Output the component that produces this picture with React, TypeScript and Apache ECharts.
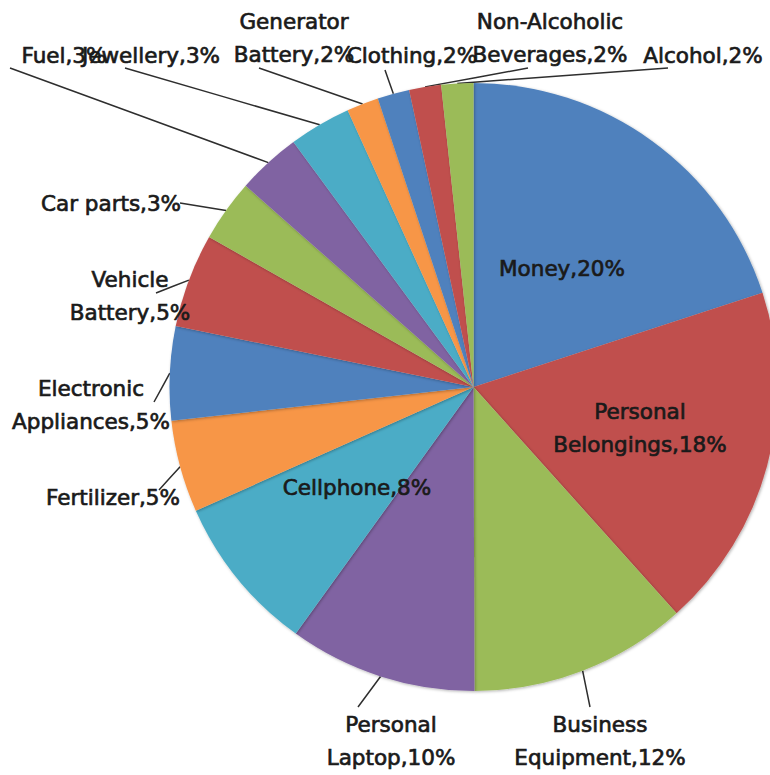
import React, { useEffect, useRef } from "react";
import * as echarts from "echarts";

const categories = [
  "Money",
  "Personal\nBelongings",
  "Business\nEquipment",
  "Personal\nLaptop",
  "Cellphone",
  "Fertilizer",
  "Electronic\nAppliances",
  "Vehicle\nBattery",
  "Car parts",
  "Fuel",
  "Jewellery",
  "Generator\nBattery",
  "Clothing",
  "Non-Alcoholic\nBeverages",
  "Alcohol",
];
const values = [20.0, 18.4, 11.6, 10.0, 8.4, 4.9, 5.0, 5.0, 3.3, 3.4, 3.3, 1.7, 1.7, 1.7, 1.7];
const palette = ["#4F81BD", "#C0504D", "#9BBB59", "#8064A2", "#4BACC6", "#F79646"];
const insideLabel = [true, true, false, false, true, false, false, false, false, false, false, false, false, false, false];

// label layout (pixel positions of label centres and leader-line ends)
const labelPos: number[][] = [
  [562, 268],
  [640, 428],
  [600, 741],
  [391, 741],
  [357, 487],
  [113, 497],
  [91, 405],
  [130, 296],
  [111, 203],
  [64, 55],
  [151, 55],
  [294, 38],
  [412, 55],
  [550, 38],
  [703, 55],
];
const lineEnd: (number[] | null)[] = [
  null,
  null,
  [590, 707],
  [358, 707],
  null,
  [159, 490],
  [154, 402],
  [156, 293],
  [180, 203],
  [10, 68],
  [125, 68],
  [259, 68],
  [385, 70],
  [528, 68],
  [668, 68],
];

export default function App() {
  const ref = useRef<HTMLDivElement>(null);
  useEffect(() => {
    document.body.style.margin = "0";
    const chart = echarts.init(ref.current!, null, { renderer: "svg" });
    const data = categories.map((name, i) => ({
      name,
      value: values[i],
      itemStyle: { color: palette[i % palette.length] },
      label: { position: insideLabel[i] ? "inside" : "outside" },
      labelLine: { show: !insideLabel[i] },
    }));
    chart.setOption({
      animation: false,
      backgroundColor: "#ffffff",
      series: [
        {
          type: "pie",
          center: [473.5, 387],
          radius: 304,
          startAngle: 90,
          clockwise: true,
          avoidLabelOverlap: false,
          data,
          itemStyle: {
            shadowBlur: 3,
            shadowColor: "rgba(0,0,0,0.3)",
            shadowOffsetX: 1,
            shadowOffsetY: 1,
          },
          label: {
            show: true,
            formatter: (p: any) => `${p.name},${Math.round(p.percent)}%`,
            fontFamily: "DejaVu Sans",
            fontSize: 21.5,
            lineHeight: 33,
            color: "#1a1a1a",
            textBorderColor: "#1a1a1a",
            textBorderWidth: 0.7,
            align: "center",
          },
          labelLine: {
            show: true,
            lineStyle: { color: "#2e2e2e", width: 1.5 },
          },
          labelLayout: (params: any) => {
            const i = params.dataIndex;
            const pos = labelPos[i];
            const out: any = {
              x: pos[0],
              y: pos[1],
              align: "center",
              verticalAlign: "middle",
            };
            const end = lineEnd[i];
            if (end && params.labelLinePoints && params.labelLinePoints.length) {
              const s = params.labelLinePoints[0];
              out.labelLinePoints = [
                [s[0], s[1]],
                [(s[0] + end[0]) / 2, (s[1] + end[1]) / 2],
                [end[0], end[1]],
              ];
            }
            return out;
          },
        },
      ],
    });
    return () => chart.dispose();
  }, []);
  return <div ref={ref} style={{ width: 770, height: 775 }} />;
}
